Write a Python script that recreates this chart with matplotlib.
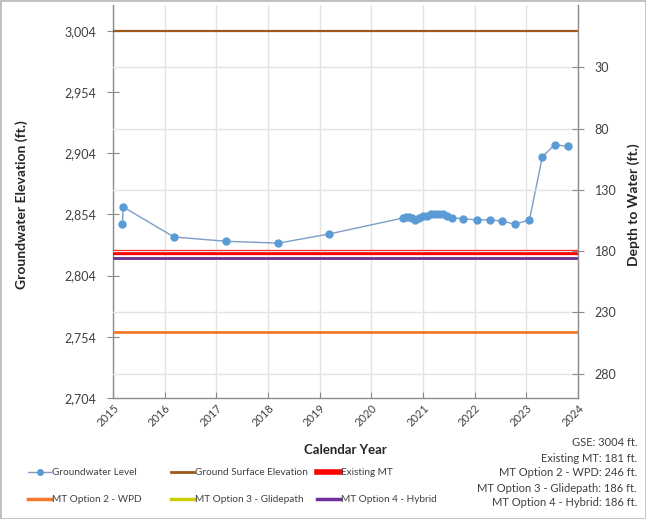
import matplotlib
matplotlib.use("Agg")
import matplotlib.pyplot as plt
from matplotlib.lines import Line2D
from matplotlib.patches import Rectangle

plt.rcParams['font.family'] = ['Lato', 'DejaVu Sans']

# Groundwater level observations (decimal year, elevation ft)
obs_year = [2015.18, 2015.20, 2016.18, 2017.19, 2018.20, 2019.19,
            2020.61, 2020.67, 2020.73, 2020.79, 2020.85, 2020.92, 2021.00,
            2021.08, 2021.15, 2021.23, 2021.31, 2021.39, 2021.46, 2021.56,
            2021.78, 2022.04, 2022.30, 2022.53, 2022.78, 2023.06,
            2023.31, 2023.55, 2023.80]
obs_elev = [2846, 2860, 2835.5, 2832, 2830.5, 2838,
            2851, 2852, 2852, 2851, 2849, 2851, 2852.5,
            2853, 2854, 2854, 2854, 2854, 2853, 2851,
            2850.5, 2849.5, 2849.5, 2848.5, 2846, 2849.5,
            2901, 2911, 2909.5]

gse = 3004
mt_depths = {
    "Existing MT": 181,
    "MT Option 2 - WPD": 246,
    "MT Option 3 - Glidepath": 186,
    "MT Option 4 - Hybrid": 186,
}
year_ticks = list(range(2015, 2025))
elev_ticks = [2704, 2754, 2804, 2854, 2904, 2954, 3004]
depth_ticks = [30, 80, 130, 180, 230, 280]

summary_lines = [
    f"GSE: {gse} ft.",
    f"Existing MT: {mt_depths['Existing MT']} ft.",
    f"MT Option 2 - WPD: {mt_depths['MT Option 2 - WPD']} ft.",
    f"MT Option 3 - Glidepath: {mt_depths['MT Option 3 - Glidepath']} ft.",
    f"MT Option 4 - Hybrid: {mt_depths['MT Option 4 - Hybrid']} ft.",
]

c_gw = "#5B9BD5"
c_gw_line = "#7F9CC9"
c_gse = "#9C5A1C"
c_exist = "#FF0000"
c_opt2 = "#F4792B"
c_opt3 = "#CCCC00"
c_opt4 = "#7030A0"
c_axis = "#8C8C8C"
c_grid = "#E3E3E3"
c_text = "#404040"

fig = plt.figure(figsize=(6.46, 5.19), dpi=100)
ax = fig.add_axes([113/646, 1-398/519, (578-113)/646, (398-5)/519])
ymin, ymax = 2704, 3025
ax.set_xlim(2015, 2024)
ax.set_ylim(ymin, ymax)

ax2 = ax.twinx()
ax2.set_ylim(gse - ymin, gse - ymax)
ax2.set_yticks(depth_ticks)
ax2.grid(axis='y', color=c_grid, lw=1.0)
ax2.set_axisbelow(True)

ax.set_xticks(year_ticks)
ax.grid(axis='x', color=c_grid, lw=1.0)
ax.set_axisbelow(True)
ax.set_yticks(elev_ticks)
ax.set_yticklabels([f"{v:,}" for v in elev_ticks])
ax.set_xticklabels([str(y) for y in year_ticks], rotation=45, ha='right',
                   rotation_mode='anchor')

# Reference elevations
ax.axhline(gse, color=c_gse, lw=1.6, zorder=3)
ax.axhline(gse - mt_depths["Existing MT"], color=c_exist, lw=3.8, zorder=3)
ax.axhline(gse - mt_depths["MT Option 2 - WPD"], color=c_opt2, lw=2.0, zorder=3)
ax.axhline(gse - mt_depths["MT Option 3 - Glidepath"], color=c_opt3, lw=2.0, zorder=3)
ax.axhline(gse - mt_depths["MT Option 4 - Hybrid"], color=c_opt4, lw=2.0, zorder=3)

ax.plot(obs_year, obs_elev, color=c_gw_line, lw=1.0, marker='o', ms=5,
        mfc=c_gw, mec=c_gw, zorder=4)

for a in (ax, ax2):
    a.spines['top'].set_visible(False)
    for s in ('left', 'right', 'bottom'):
        a.spines[s].set_color(c_axis)
        a.spines[s].set_linewidth(1.0)
ax.spines['right'].set_visible(False)
ax2.spines['left'].set_visible(False)
ax2.spines['bottom'].set_visible(False)

ax.tick_params(axis='y', direction='inout', length=8, color=c_axis,
               labelsize=9, labelcolor=c_text, pad=8)
ax.tick_params(axis='x', direction='in', length=4, color=c_axis,
               labelsize=8, labelcolor=c_text, pad=3)
ax2.tick_params(axis='y', direction='inout', length=8, color=c_axis,
                labelsize=9, labelcolor=c_text, pad=8)

fig.text(22/646, 1-205/519, "Groundwater Elevation (ft.)", rotation=90,
         ha='center', va='center', fontsize=10, fontweight='bold', color='#262626')
fig.text(634/646, 1-205/519, "Depth to Water (ft.)", rotation=90,
         ha='center', va='center', fontsize=10, fontweight='bold', color='#262626')
fig.text(345/646, 1-450/519, "Calendar Year", ha='center', va='center',
         fontsize=9.5, fontweight='bold', color='#262626')

# Legend in three columns
legend_cols = [
    (23, [Line2D([], [], color=c_gw_line, lw=1.0, marker='o', ms=4, mfc=c_gw, mec=c_gw),
          Line2D([], [], color=c_opt2, lw=2.5)],
     ["Groundwater Level", "MT Option 2 - WPD"]),
    (166, [Line2D([], [], color=c_gse, lw=2.0), Line2D([], [], color=c_opt3, lw=2.5)],
     ["Ground Surface Elevation", "MT Option 3 - Glidepath"]),
    (312, [Line2D([], [], color=c_exist, lw=4.0), Line2D([], [], color=c_opt4, lw=2.5)],
     ["Existing MT", "MT Option 4 - Hybrid"]),
]
for x0, handles, labels in legend_cols:
    fig.legend(handles, labels, loc='upper left',
               bbox_to_anchor=(x0/646, 1-463/519), frameon=False,
               fontsize=7.2, handlelength=2.3, handletextpad=0.1,
               labelspacing=1.85, borderpad=0, labelcolor=c_text)

for i, line in enumerate(summary_lines):
    fig.text(637/646, 1-(443 + 15.0*i)/519, line, ha='right', va='center',
             fontsize=8, color=c_text)

fig.patches.append(Rectangle((0, 0), 1, 1, transform=fig.transFigure,
                             fill=False, edgecolor='#BFBFBF', lw=2))

fig.savefig("out.png", dpi=100)
